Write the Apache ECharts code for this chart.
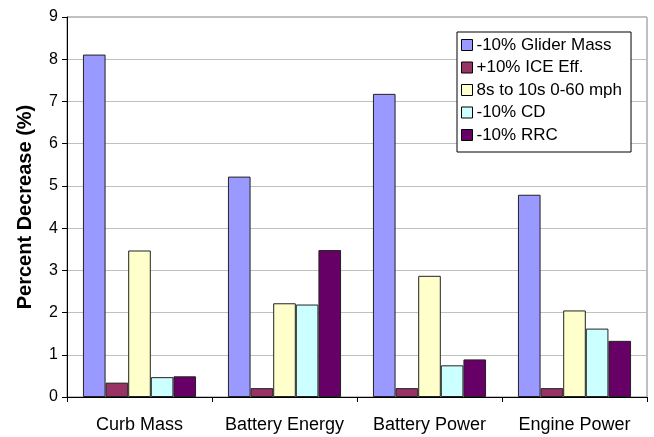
<!DOCTYPE html>
<html>
<head>
<meta charset="utf-8">
<script src="https://cdn.jsdelivr.net/npm/echarts@6/dist/echarts.min.js"></script>
<style>
  html, body { margin: 0; padding: 0; background: #fff; }
  #chart { width: 654px; height: 437px; }
</style>
</head>
<body>
<div id="chart"></div>
<script>
// Vehicle attributes compared across sensitivity cases
const categories = ['Curb Mass', 'Battery Energy', 'Battery Power', 'Engine Power'];

// Percent decrease for each case
const gliderMass = [8.11, 5.22, 7.18, 4.79];
const iceEff     = [0.34, 0.21, 0.21, 0.21];
const accel      = [3.47, 2.22, 2.87, 2.05];
const dragCoef   = [0.47, 2.19, 0.75, 1.62];
const rollingRes = [0.49, 3.48, 0.89, 1.33];

const seriesNames = ['-10% Glider Mass', '+10% ICE Eff.', '8s to 10s 0-60 mph', '-10% CD', '-10% RRC'];
const seriesData  = [gliderMass, iceEff, accel, dragCoef, rollingRes];
const seriesColors = ['#9999FF', '#993366', '#FFFFCC', '#CCFFFF', '#660066'];

const yTicks = [0, 1, 2, 3, 4, 5, 6, 7, 8, 9];

const font = 'Arial, "Liberation Sans", sans-serif';

const chart = echarts.init(document.getElementById('chart'), null, { renderer: 'canvas' });

chart.setOption({
  animation: false,
  backgroundColor: '#ffffff',
  textStyle: { fontFamily: font },
  grid: {
    left: 67, right: 7, top: 17, bottom: 40,
    show: true, borderColor: '#808080', borderWidth: 1
  },
  legend: {
    orient: 'vertical',
    left: 457, top: 32,
    padding: [3, 9, 7, 4],
    itemWidth: 11, itemHeight: 11,
    itemGap: 2.5,
    backgroundColor: '#ffffff',
    borderColor: '#000000', borderWidth: 1,
    icon: 'rect',
    itemStyle: { borderColor: '#000000', borderWidth: 1 },
    textStyle: { fontFamily: font, fontSize: 17, color: '#000', lineHeight: 20, padding: [0, 0, 0, -1] },
    data: seriesNames
  },
  xAxis: {
    type: 'category',
    data: categories,
    boundaryGap: true,
    axisLine: { lineStyle: { color: '#000', width: 1 } },
    axisTick: { show: true, length: 5, lineStyle: { color: '#000' } },
    axisLabel: { fontFamily: font, fontSize: 18, color: '#000', margin: 19, interval: 0, hideOverlap: false },
    splitLine: { show: false }
  },
  yAxis: {
    type: 'value',
    min: yTicks[0], max: yTicks[yTicks.length - 1], interval: 1,
    name: 'Percent Decrease (%)',
    nameLocation: 'middle',
    nameGap: 32,
    nameTextStyle: { fontFamily: font, fontSize: 20, fontWeight: 'bold', color: '#000' },
    axisLine: { show: true, lineStyle: { color: '#000', width: 1 } },
    axisTick: { show: true, length: 5, lineStyle: { color: '#000' } },
    axisLabel: { fontFamily: font, fontSize: 16, color: '#000', margin: 9 },
    splitLine: { show: true, lineStyle: { color: '#c0c0c0', width: 1 } }
  },
  series: seriesNames.map((name, i) => ({
    name,
    type: 'bar',
    data: seriesData[i],
    barGap: '0%',
    barCategoryGap: '22%',
    itemStyle: { color: seriesColors[i], borderColor: '#222222', borderWidth: 1 }
  }))
});
</script>
</body>
</html>
